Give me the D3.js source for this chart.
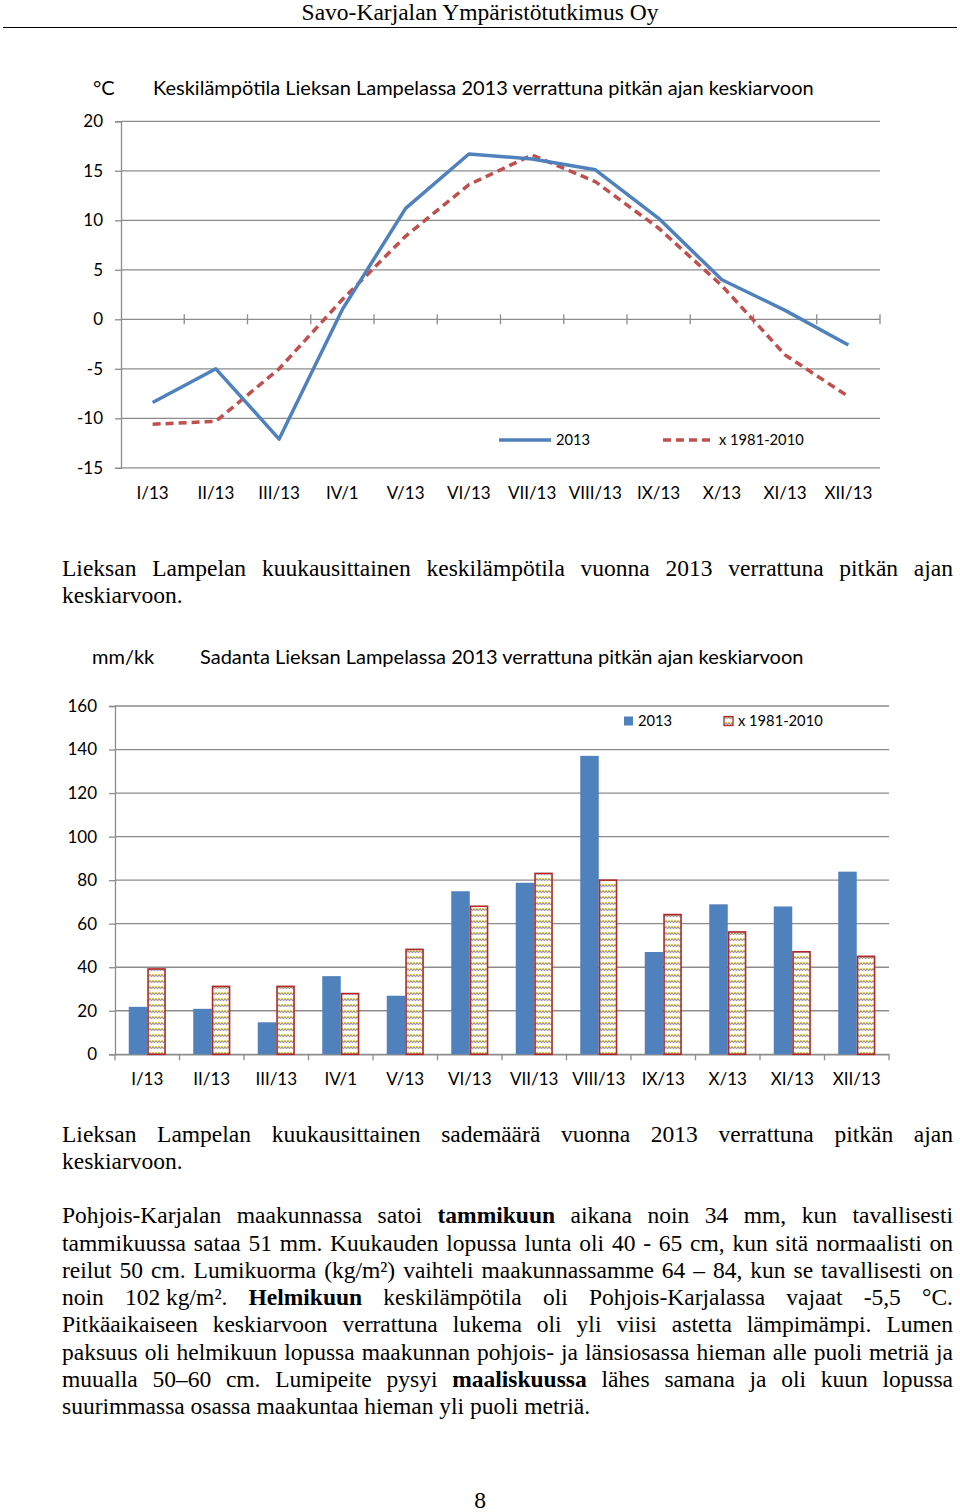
<!DOCTYPE html>
<html>
<head>
<meta charset="utf-8">
<script src="https://cdn.jsdelivr.net/npm/d3@7"></script>
<style>
  body { margin:0; background:#fff; }
  svg { display:block; }
  .chart text { font-family: Lato, "Open Sans", sans-serif; fill:#000; }
  .serif text, text.serif { font-family: "Liberation Serif", "DejaVu Serif", serif; fill:#000; }
</style>
</head>
<body>
<script>
// ---- data ----
const months = ["I/13","II/13","III/13","IV/1","V/13","VI/13","VII/13","VIII/13","IX/13","X/13","XI/13","XII/13"];
const temp2013   = [-8.4, -5.0, -12.1, 1.0, 11.2, 16.7, 16.2, 15.1, 10.2, 4.0, 0.9, -2.6];
const tempNormal = [-10.6, -10.3, -5.0, 2.0, 8.4, 13.6, 16.6, 13.9, 9.2, 3.4, -3.6, -7.8];
const rain2013   = [21.8, 20.9, 14.7, 35.9, 26.9, 74.9, 78.8, 137.1, 47.0, 68.9, 67.9, 83.9];
const rainNormal = [39.2, 31.2, 31.2, 27.9, 48.2, 68.0, 83.1, 80.0, 64.2, 56.2, 47.1, 45.0];
const tempTicks = [-15, -10, -5, 0, 5, 10, 15, 20];
const rainTicks = [0, 20, 40, 60, 80, 100, 120, 140, 160];
const seriesNames = ["2013", "x 1981-2010"];

const blue = "#4F81BD", red = "#C0504D", grid = "#8c8c8c";

const svg = d3.select('body').append('svg')
    .attr('width', 960).attr('height', 1512);
svg.append('rect').attr('width', 960).attr('height', 1512).attr('fill', '#fff');

// pattern for long-term bars
const defs = svg.append('defs');
const pat = defs.append('pattern').attr('id', 'wave')
    .attr('patternUnits', 'userSpaceOnUse').attr('width', 6).attr('height', 6);
pat.append('rect').attr('width', 6).attr('height', 6).attr('fill', '#fffdf0');
pat.append('path').attr('d', 'M0,2 L1.5,4 L3,2 L4.5,4 L6,2')
    .attr('fill', 'none').attr('stroke', '#d8c94a').attr('stroke-width', 1);
pat.append('path').attr('d', 'M0,3 L1.5,5 L3,3 L4.5,5 L6,3')
    .attr('fill', 'none').attr('stroke', '#5c4f8f').attr('stroke-width', 0.6);

// header
svg.append('text').attr('class', 'serif')
    .attr('x', 480).attr('y', 20).attr('text-anchor', 'middle')
    .style('font-size', '23.5px').text('Savo-Karjalan Ympäristötutkimus Oy');
svg.append('line').attr('x1', 3).attr('x2', 957).attr('y1', 27.5).attr('y2', 27.5)
    .attr('stroke', '#000').attr('stroke-width', 1);

const fmt = d => String(d);

// ---------------- temperature line chart ----------------
const c1 = svg.append('g').attr('class', 'chart');
const x1 = d3.scaleBand().domain(months).range([121, 880]);
const y1 = d3.scaleLinear().domain([-15, 20]).range([467.8, 121.3]);

c1.append('text').attr('x', 93).attr('y', 95).style('font-size', '20px').text('°C');
c1.append('text').attr('x', 153).attr('y', 95).style('font-size', '20px')
    .text('Keskilämpötila Lieksan Lampelassa 2013 verrattuna pitkän ajan keskiarvoon');

const yAx1 = c1.append('g').attr('transform', 'translate(121,0)')
    .call(d3.axisLeft(y1).tickValues(tempTicks).tickFormat(fmt).tickSize(6).tickPadding(12));
yAx1.select('.domain').attr('stroke', grid).attr('stroke-width', 1.3);
yAx1.selectAll('.tick line').attr('stroke', grid).attr('stroke-width', 1.3);
yAx1.selectAll('.tick text').style('font-size', '17px').style('font-family', 'Lato');

c1.append('g').selectAll('line').data(tempTicks).join('line')
    .attr('x1', 121).attr('x2', 880)
    .attr('y1', d => y1(d)).attr('y2', d => y1(d))
    .attr('stroke', grid).attr('stroke-width', 1.3);

// crossing tick marks on the zero line
c1.append('g').selectAll('line').data(months).join('line')
    .attr('x1', d => x1(d) + x1.bandwidth()).attr('x2', d => x1(d) + x1.bandwidth())
    .attr('y1', y1(0) - 5).attr('y2', y1(0) + 5)
    .attr('stroke', grid).attr('stroke-width', 1.3);

c1.append('g').selectAll('text').data(months).join('text')
    .attr('x', d => x1(d) + x1.bandwidth() / 2).attr('y', 499)
    .attr('text-anchor', 'middle').style('font-size', '17px').text(d => d);

const line1 = d3.line()
    .x((d, i) => x1(months[i]) + x1.bandwidth() / 2)
    .y(d => y1(d));
c1.append('path').datum(tempNormal).attr('d', line1)
    .attr('fill', 'none').attr('stroke', red).attr('stroke-width', 3.5)
    .attr('stroke-dasharray', '8,5');
c1.append('path').datum(temp2013).attr('d', line1)
    .attr('fill', 'none').attr('stroke', blue).attr('stroke-width', 3.5)
    .attr('stroke-linejoin', 'round');

// legend
const lg1 = c1.append('g');
lg1.append('line').attr('x1', 499).attr('x2', 551).attr('y1', 440).attr('y2', 440)
    .attr('stroke', blue).attr('stroke-width', 3.5);
lg1.append('text').attr('x', 556).attr('y', 445).style('font-size', '14.7px').text(seriesNames[0]);
lg1.append('line').attr('x1', 663).attr('x2', 711).attr('y1', 440).attr('y2', 440)
    .attr('stroke', red).attr('stroke-width', 3.5).attr('stroke-dasharray', '8,5');
lg1.append('text').attr('x', 719).attr('y', 445).style('font-size', '14.7px').text(seriesNames[1]);

// ---------------- precipitation bar chart ----------------
const c2 = svg.append('g').attr('class', 'chart');
const x2 = d3.scaleBand().domain(months).range([115, 889]);
const y2 = d3.scaleLinear().domain([0, 160]).range([1054.3, 706]);

c2.append('text').attr('x', 92).attr('y', 664).style('font-size', '20px').text('mm/kk');
c2.append('text').attr('x', 200).attr('y', 664).style('font-size', '20px')
    .text('Sadanta Lieksan Lampelassa 2013 verrattuna pitkän ajan keskiarvoon');

c2.append('g').selectAll('line').data(rainTicks).join('line')
    .attr('x1', 115).attr('x2', 889)
    .attr('y1', d => y2(d)).attr('y2', d => y2(d))
    .attr('stroke', grid).attr('stroke-width', 1.3);

const yAx2 = c2.append('g').attr('transform', 'translate(115,0)')
    .call(d3.axisLeft(y2).tickValues(rainTicks).tickFormat(fmt).tickSize(6).tickPadding(12));
yAx2.select('.domain').attr('stroke', grid).attr('stroke-width', 1.3);
yAx2.selectAll('.tick line').attr('stroke', grid).attr('stroke-width', 1.3);
yAx2.selectAll('.tick text').style('font-size', '17px').style('font-family', 'Lato');

const xAx2 = c2.append('g').attr('transform', `translate(0,${y2(0)})`)
    .call(d3.axisBottom(x2).tickSize(0).tickFormat(''));
xAx2.select('.domain').attr('stroke', grid).attr('stroke-width', 1.3);
c2.append('g').selectAll('line').data([months[0]].concat(months)).join('line')
    .attr('x1', (d, i) => i === 0 ? 115 : x2(d) + x2.bandwidth())
    .attr('x2', (d, i) => i === 0 ? 115 : x2(d) + x2.bandwidth())
    .attr('y1', y2(0)).attr('y2', y2(0) + 6)
    .attr('stroke', grid).attr('stroke-width', 1.3);

c2.append('g').selectAll('text').data(months).join('text')
    .attr('x', d => x2(d) + x2.bandwidth() / 2).attr('y', 1085)
    .attr('text-anchor', 'middle').style('font-size', '17px').text(d => d);

const bw = 18.5;
c2.append('g').selectAll('rect').data(rain2013).join('rect')
    .attr('x', (d, i) => x2(months[i]) + x2.bandwidth() / 2 - bw)
    .attr('y', d => y2(d)).attr('width', bw)
    .attr('height', d => y2(0) - y2(d)).attr('fill', blue);
c2.append('g').selectAll('rect').data(rainNormal).join('rect')
    .attr('x', (d, i) => x2(months[i]) + x2.bandwidth() / 2 + 0.8)
    .attr('y', d => y2(d)).attr('width', bw - 1.5)
    .attr('height', d => y2(0) - y2(d)).attr('fill', 'url(#wave)')
    .attr('stroke', '#b0282c').attr('stroke-width', 1.6);

const lg2 = c2.append('g');
lg2.append('rect').attr('x', 624).attr('y', 716.5).attr('width', 9).attr('height', 9).attr('fill', blue);
lg2.append('text').attr('x', 638).attr('y', 726).style('font-size', '14.7px').text(seriesNames[0]);
lg2.append('rect').attr('x', 724).attr('y', 716.5).attr('width', 9).attr('height', 9)
    .attr('fill', 'url(#wave)').attr('stroke', '#b0282c').attr('stroke-width', 1.3);
lg2.append('text').attr('x', 738).attr('y', 726).style('font-size', '14.7px').text(seriesNames[1]);

// ---------------- body text ----------------
const body = svg.append('g').attr('class', 'serif').style('font-size', '23.5px');
function textLine(words, y, justify) {
  const g = body.append('g');
  const nodes = words.map(w => g.append('text').attr('y', y)
      .attr('font-weight', w[0] === '*' ? 'bold' : null)
      .text(w[0] === '*' ? w.slice(1) : w));
  const widths = nodes.map(n => n.node().getComputedTextLength());
  const gap = justify ? (953 - 62 - d3.sum(widths)) / (words.length - 1) : 5.9;
  let x = 62;
  nodes.forEach((n, i) => { n.attr('x', x); x += widths[i] + gap; });
}
const lines = [
  ["Lieksan Lampelan kuukausittainen keskilämpötila vuonna 2013 verrattuna pitkän ajan", 576, true],
  ["keskiarvoon.", 603, false],
  ["Lieksan Lampelan kuukausittainen sademäärä vuonna 2013 verrattuna pitkän ajan", 1142, true],
  ["keskiarvoon.", 1169, false],
  ["Pohjois-Karjalan maakunnassa satoi *tammikuun aikana noin 34 mm, kun tavallisesti", 1223, true],
  ["tammikuussa sataa 51 mm. Kuukauden lopussa lunta oli 40 - 65 cm, kun sitä normaalisti on", 1250.5, true],
  ["reilut 50 cm. Lumikuorma (kg/m²) vaihteli maakunnassamme 64 – 84, kun se tavallisesti on", 1278, true],
  ["noin 102\u00a0kg/m². *Helmikuun keskilämpötila oli Pohjois-Karjalassa vajaat -5,5 °C.", 1305, true],
  ["Pitkäaikaiseen keskiarvoon verrattuna lukema oli yli viisi astetta lämpimämpi. Lumen", 1332, true],
  ["paksuus oli helmikuun lopussa maakunnan pohjois- ja länsiosassa hieman alle puoli metriä ja", 1359.5, true],
  ["muualla 50–60 cm. Lumipeite pysyi *maaliskuussa lähes samana ja oli kuun lopussa", 1387, true],
  ["suurimmassa osassa maakuntaa hieman yli puoli metriä.", 1414, false]
];
lines.forEach(l => textLine(l[0].split(' '), l[1], l[2]));

svg.append('text').attr('class', 'serif').attr('x', 480).attr('y', 1508)
    .attr('text-anchor', 'middle').style('font-size', '23.5px').text('8');
</script>
</body>
</html>
